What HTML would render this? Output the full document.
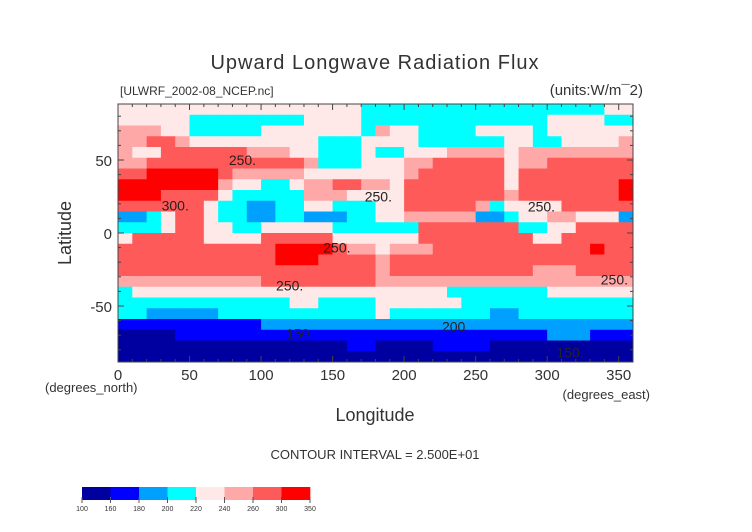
<!DOCTYPE html>
<html><head><meta charset="utf-8"><style>
body{margin:0;background:#fff;}
svg{display:block;font-family:"Liberation Sans",sans-serif;}
</style></head><body>
<svg id="chart" width="752" height="532" viewBox="0 0 752 532">
<text x="375" y="69" text-anchor="middle" font-size="20" fill="#333" letter-spacing="1">Upward Longwave Radiation Flux</text>
<text x="120" y="95" font-size="12" fill="#333">[ULWRF_2002-08_NCEP.nc]</text>
<text x="643" y="95" text-anchor="end" font-size="15" fill="#333">(units:W/m¯2)</text>
<g id="cells"></g>
<g id="labels"></g>
<rect x="118" y="104" width="515" height="258" fill="none" stroke="#444" stroke-width="1"/>
<g id="axes"></g>
<text x="45" y="392" font-size="13" fill="#333">(degrees_north)</text>
<text x="650" y="399" text-anchor="end" font-size="13" fill="#333">(degrees_east)</text>
<text x="375" y="421" text-anchor="middle" font-size="18" fill="#333">Longitude</text>
<text x="0" y="0" transform="translate(71,233) rotate(-90)" text-anchor="middle" font-size="18" fill="#333">Latitude</text>
<text x="375" y="459" text-anchor="middle" font-size="13" fill="#333">CONTOUR INTERVAL = 2.500E+01</text>
<g id="cbar"></g>
</svg>
<script>
const levelMids=[130,170,190,210,230,250,280,325];
const levelBounds=[100,160,180,200,220,240,260,300,350];
const levelColors=["#0000a0","#0000ff","#00a0ff","#00ffff","#ffe8e8","#ffa8a8","#ff5a5a","#ff0000"];
const xTicks=[0,50,100,150,200,250,300,350];
const yTicks=[50,0,-50];
// rows from top of plot (88N) to bottom (88S); 36 columns of 10 deg; digits are level indices
const gridRows=[
"444444444444444443"+"333333333333333344",
"444443333333344443"+"333333333333444433",
"555443333344444443"+"544333344443444444",
"556654444444443334"+"444333333443344445",
"544666666555443334"+"334445555455555555",
"556666666666653334"+"445566666455666666",
"667777765555544444"+"445666666466666666",
"777777754433455665"+"546666666466666667",
"777666643333355544"+"446666666566666667",
"666666433223344333"+"446666653444466666",
"223466433223322233"+"445555522344554442",
"333466443344444333"+"333666666633446666",
"466666444466666444"+"444666666664466666",
"666666666667777655"+"455566666666666766",
"666666666667776666"+"566666666666666666",
"666666666666666666"+"566666666665556666",
"555555555566666666"+"555555555555555555",
"344444444444444444"+"444443333333444444",
"333333333333443333"+"444444333333333333",
"332222233333333333"+"433333332233333333",
"111111111122222222"+"222222222222222222",
"000011111111111111"+"111111111111222111",
"000000000000000011"+"000011110000000000",
"000000000000000000"+"000000000000000000"];
const values=gridRows.map(r=>r.split('').map(c=>levelMids[+c]));
const labelText=["250.","300.","250.","250.","250.","250.","250.","200.","150.","150."];
const labelLon=[87,40,182,296,153,120,347,236,127,316];
const labelLat=[50,19,25,18,-10,-36,-32,-64,-69,-82];

const X0=118,X1=633,Y0=104,Y1=362;
const sx=lon=>X0+(lon/360)*(X1-X0);
const sy=lat=>233-(lat/50)*73;
const ns="http://www.w3.org/2000/svg";
function mk(t,a,p){const e=document.createElementNS(ns,t);for(const k in a)e.setAttribute(k,a[k]);p.appendChild(e);return e;}
function levelOf(v){for(let i=0;i<levelColors.length;i++){if(v<levelBounds[i+1])return i;}return levelColors.length-1;}
const cells=document.getElementById('cells');
const rh=(Y1-Y0)/values.length;
values.forEach((row,i)=>{
  const yt=Y0+i*rh;
  const cw=(X1-X0)/row.length;
  row.forEach((v,j)=>{
    const r=mk('rect',{x:X0+j*cw,y:yt,width:cw+0.5,height:rh+0.5,fill:levelColors[levelOf(v)]},cells);
    
    
  });
});
const lab=document.getElementById('labels');
labelText.forEach((s,i)=>{
  const t=mk('text',{x:sx(labelLon[i]),y:sy(labelLat[i])+5,'font-size':14,fill:'#222','text-anchor':'middle'},lab);
  t.textContent=s;
  
  
});
const ax=document.getElementById('axes');
for(let lon=0;lon<=360;lon+=10){
  const big=lon%50===0;
  mk('line',{x1:sx(lon),x2:sx(lon),y1:Y1,y2:Y1-(big?6:3),stroke:'#444'},ax);
  mk('line',{x1:sx(lon),x2:sx(lon),y1:Y0,y2:Y0+(big?6:3),stroke:'#444'},ax);
}
for(let lat=-80;lat<=80;lat+=10){
  const big=lat%50===0;
  mk('line',{x1:X0,x2:X0+(big?6:3),y1:sy(lat),y2:sy(lat),stroke:'#444'},ax);
  mk('line',{x1:X1,x2:X1-(big?6:3),y1:sy(lat),y2:sy(lat),stroke:'#444'},ax);
}
xTicks.forEach(v=>{
  const t=mk('text',{x:sx(v),y:380,'font-size':15,fill:'#333','text-anchor':'middle'},ax);
  t.textContent=v;
  
  
});
yTicks.forEach(v=>{
  const t=mk('text',{x:112,y:sy(v)+6,'font-size':15,fill:'#333','text-anchor':'end'},ax);
  t.textContent=v;
  
  
});
const cb=document.getElementById('cbar');
const cbX=82,cbW=228/8;
levelColors.forEach((c,i)=>{
  const r=mk('rect',{x:cbX+i*cbW,y:487,width:cbW+0.3,height:13,fill:c},cb);
  
  
});
levelBounds.forEach((b,i)=>{
  mk('line',{x1:cbX+i*cbW,x2:cbX+i*cbW,y1:497,y2:503,stroke:'#555'},cb);
  const t=mk('text',{x:cbX+i*cbW,y:511,'font-size':7,fill:'#333','text-anchor':'middle'},cb);
  t.textContent=b;
  
  
});
</script>
</body></html>
